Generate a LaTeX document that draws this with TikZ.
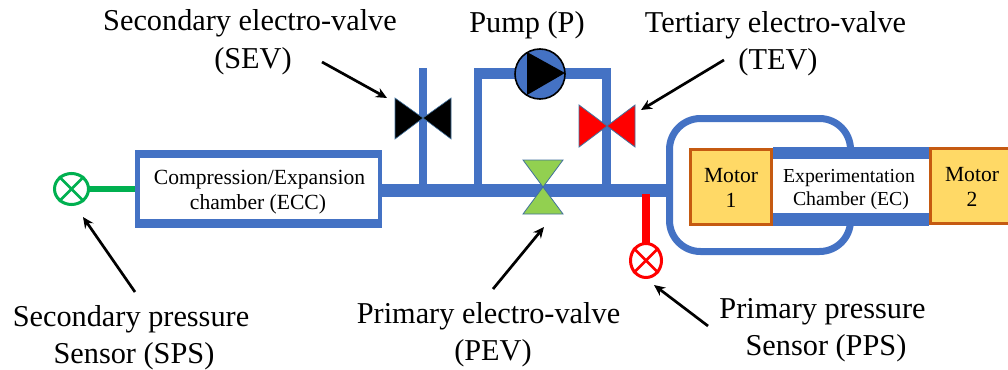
\documentclass[tikz,border=0pt]{standalone}
\usepackage{fontspec}
\setmainfont{Liberation Serif}
\usetikzlibrary{arrows.meta,calc,shapes.geometric}
\definecolor{pipeblue}{HTML}{4472C4}
\definecolor{sensgreen}{HTML}{00B050}
\definecolor{valvegreen}{HTML}{92D050}
\definecolor{edgeblue}{HTML}{41719C}
\definecolor{motorfill}{HTML}{FFD966}
\definecolor{motoredge}{HTML}{C55A11}
\tikzset{
  big/.style={font=\fontsize{30.3}{37}\selectfont,align=center,inner sep=0pt,anchor=base},
  mid/.style={font=\fontsize{21.6}{25}\selectfont,align=center,inner sep=0pt,anchor=base},
  small/.style={font=\fontsize{19.8}{23}\selectfont,align=center,inner sep=0pt,anchor=base},
  pipe/.style={draw=pipeblue,line cap=butt,line join=miter},
  callout/.style={draw=black,line width=2.7pt,-{Stealth[length=11pt,width=10pt]}},
  motorbox/.style={rectangle,fill=motorfill,draw=motoredge,line width=3pt,inner sep=0pt,anchor=north west},
  sensor/.style={ellipse,draw=#1,line width=3pt,fill=white,inner sep=0pt},
  sep/.style={rectangle,inner sep=0pt,anchor=north west,fill=#1}
}
\newcommand{\rectnode}[6]{\node[sep=#6] (#1) at (#2,#3) [minimum width=#4pt,minimum height=#5pt] {};}
\begin{document}
\begin{tikzpicture}[x=1pt,y=-1pt]
\useasboundingbox (0,0) rectangle (1008,369);
\clip (0,0) rectangle (1008,369);
% junction coordinates
\coordinate (jsev) at (423,190.5);
\coordinate (sevtop) at (423,68);
\coordinate (jbl) at (478,190.5);
\coordinate (jbr) at (606.5,190.5);
\coordinate (pipeend) at (670,190.5);
% loop around the chamber
\draw[pipe,line width=7pt,rounded corners=31pt] (850.5,150) -- (850.5,118.5) -- (669.5,118.5) -- (669.5,251.5) -- (850.5,251.5) -- (850.5,222);
% ECC
\rectnode{eccframe}{135}{150}{247}{78}{pipeblue}
\rectnode{eccinner}{140}{158}{238}{61}{white}
% green sensor
\node[sensor=sensgreen,minimum width=34pt,minimum height=31pt] (sps) at (71.5,189) {};
\draw[sensgreen,line width=2.6pt] (sps.45) -- (sps.225) (sps.135) -- (sps.315);
\draw[draw=sensgreen,line width=6pt,shorten <=-3pt] (sps.east) -- (eccframe.west |- sps.east);
% main pipe
\draw[pipe,line width=13pt] (eccframe.east |- pipeend) -- (pipeend);
\draw[pipe,line width=8pt] (sevtop) -- (jsev);
\draw[pipe,line width=8pt] (jbl) -- (478,79);
\draw[pipe,line width=11pt] (474,73.5) -- (611,73.5);
\draw[pipe,line width=9pt] (jbr) -- (606.5,68);
% red sensor
\node[sensor=red,minimum width=31pt,minimum height=34pt] (pps) at (646,260.5) {};
\draw[red,line width=2.6pt] (pps.45) -- (pps.225) (pps.135) -- (pps.315);
\draw[draw=red,line width=8pt,shorten >=-3pt] (646,194) -- (pps.north);
% pump
\node[circle,draw=black,line width=1.6pt,fill=pipeblue,minimum size=50pt,inner sep=0pt] (pump) at (540,74) {};
\fill[black] (527,52) -- (565,73) -- (527,95) -- cycle;
% valves
\coordinate (sev) at (423,118);
\fill[black,draw=edgeblue,line width=.6pt] (395,98) -- (395,139) -- (sev) -- (451,98) -- (451,139) -- (sev) -- cycle;
\coordinate (tev) at (607,126);
\fill[red,draw=edgeblue,line width=.8pt] (579,105) -- (579,147) -- (tev) -- (635,105) -- (635,147) -- (tev) -- cycle;
\coordinate (pev) at (543,187);
\fill[valvegreen,draw=edgeblue,line width=.8pt] (523,160) -- (563,160) -- (pev) -- (563,214) -- (523,214) -- (pev) -- cycle;
% chamber bars
\rectnode{ectop}{773}{147}{156}{12}{pipeblue}
\rectnode{ecbot}{773}{213}{156}{13}{pipeblue}
% motors
\node[motorbox,minimum width=81pt,minimum height=75pt] (m1) at (689,148) {};
\node[motorbox,minimum width=90pt,minimum height=75pt] (m2) at (929,147) {};
% callouts
\coordinate (sevs) at (322,62); \coordinate (sevt) at (387,98);
\coordinate (tevs) at (724,60); \coordinate (tevt) at (641,110);
\coordinate (spss) at (135,292); \coordinate (spst) at (83,217);
\coordinate (pevs) at (493,289); \coordinate (pevt) at (544,227);
\coordinate (ppss) at (708,326); \coordinate (ppst) at (654,285);
\draw[callout] (sevs) -- (sevt);
\draw[callout] (tevs) -- (tevt);
\draw[callout] (spss) -- (spst);
\draw[callout] (pevs) -- (pevt);
\draw[callout] (ppss) -- (ppst);
% labels (anchor=base sits on the last line)
\node[big] (lsev) at (250,68) {Secondary electro-valve\\\hspace*{6pt}(SEV)};
\node[big] (lpump) at (527,33) {Pump (P)};
\node[big] (ltev) at (775.5,70) {Tertiary electro-valve\\\hspace*{5pt}(TEV)};
\node[big] (lsps) at (131,363) {Secondary pressure\\\hspace*{6pt}Sensor (SPS)};
\node[big] (lpev) at (488.5,360) {Primary electro-valve\\\hspace*{9pt}(PEV)};
\node[big] (lpps) at (822.5,355) {Primary pressure\\\hspace*{7pt}Sensor (PPS)};
\node[mid] (lecc) at (259.5,209) {Compression/Expansion\\\hspace*{-3pt}chamber (ECC)};
\node[mid] (lm1) at (731,207) {Motor\\1};
\node[small] (lec) at (849,205) {Experimentation\\\hspace*{4pt}Chamber (EC)};
\node[mid] (lm2) at (972,206) {Motor\\2};
\end{tikzpicture}
\end{document}
